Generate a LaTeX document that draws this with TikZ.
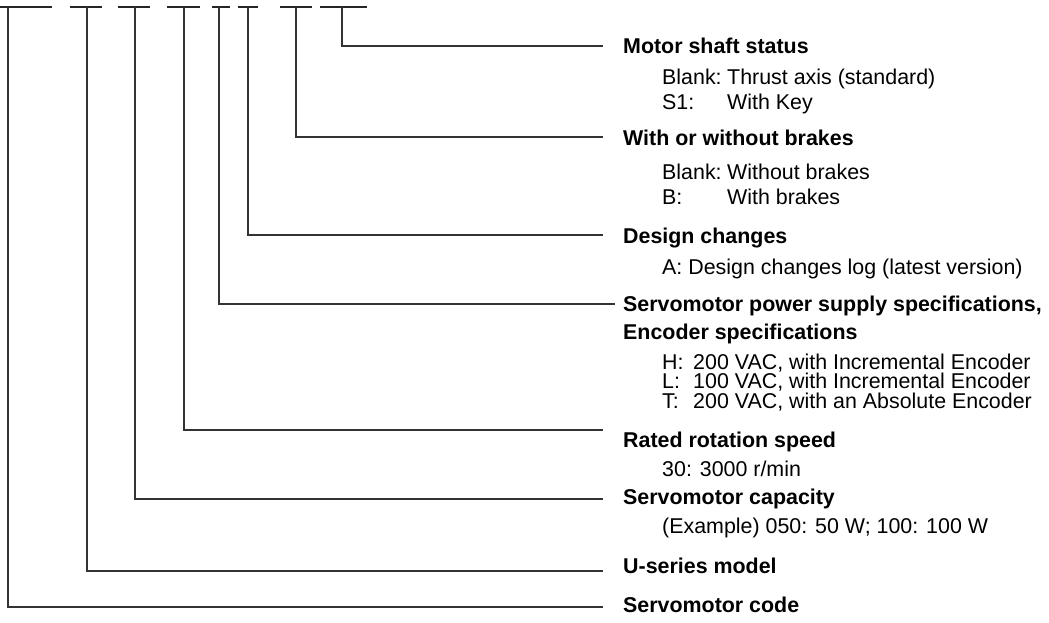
\documentclass[tikz,border=0pt]{standalone}
\usepackage{fontspec}
\setmainfont{Liberation Sans}
\begin{document}
\begin{tikzpicture}[x=1pt,y=-1pt,
  conn/.style={line width=1.3pt,draw=black!80},
  seg/.style={line width=1.3pt,draw=black!85},
  head/.style={anchor=base west,inner sep=0pt,font=\fontsize{21.4}{25}\selectfont\bfseries},
  sub/.style={anchor=base west,inner sep=0pt,font=\fontsize{21.4}{25}\selectfont},
  tight/.style={sub,text height=14.5pt,text depth=4pt}]
\useasboundingbox (0,0) rectangle (1049,622);
% model code character segments
\foreach \a/\b in {0/52,70/102,118/150,167/200,212/230,238/258,280/312,320/367}
  \draw[seg] (\a,7) -- (\b,7);
% top coordinates
\coordinate (t1) at (342,7);
\coordinate (t2) at (296,7);
\coordinate (t3) at (248,7);
\coordinate (t4) at (219,7);
\coordinate (t5) at (184,7);
\coordinate (t6) at (135,7);
\coordinate (t7) at (87,7);
\coordinate (t8) at (8,7);
% headings
\node[head] (h1) at (623,53.5) {Motor shaft status};
\node[head] (h2) at (623,145) {With or without brakes};
\node[head] (h3) at (623,243) {Design changes};
\node[head] (h4) at (623,311) {Servomotor power supply specifications,};
\node[head] (h4b) at (623,339) {Encoder specifications};
\node[head] (h5) at (623,447.5) {Rated rotation speed};
\node[head] (h6) at (623,504.5) {Servomotor capacity};
\node[head] (h7) at (623,573.5) {U-series model};
\node[head] (h8) at (623,612.5) {Servomotor code};
% connector ends
\coordinate (e1) at (603,46);
\coordinate (e2) at (603,137);
\coordinate (e3) at (603,235);
\coordinate (e4) at (615,304);
\coordinate (e5) at (603,430);
\coordinate (e6) at (603,499);
\coordinate (e7) at (603,571);
\coordinate (e8) at (603,607);
\foreach \i in {1,...,8}
  \draw[conn] (t\i) |- (e\i);
% sub texts
\node[sub] (s1a) at (662,84) {Blank:};
\node[sub] (s1av) at (727,84) {Thrust axis (standard)};
\node[sub] (s1b) at (662,109) {S1:};
\node[sub] (s1bv) at (727,109) {With Key};
\node[sub] (s2a) at (662,179) {Blank:};
\node[sub] (s2av) at (727,179) {Without brakes};
\node[sub] (s2b) at (662,204) {B:};
\node[sub] (s2bv) at (727,204) {With brakes};
\node[sub] (s3) at (662,274) {A: Design changes log (latest version)};
\node[tight] (s4a) at (662,369) {H:};
\node[tight] (s4av) at (693,369) {200 VAC, with Incremental Encoder};
\node[tight] (s4b) at (662,388.5) {L:};
\node[tight] (s4bv) at (693,388.5) {100 VAC, with Incremental Encoder};
\node[tight] (s4c) at (662,408) {T:};
\node[tight] (s4cv) at (693,408) {200 VAC, with an Absolute Encoder};
\node[sub] (s5) at (662,476.5) {30: 3000 r/min};
\node[sub] (s6) at (662,533.5) {(Example) 050: 50 W; 100: 100 W};
\end{tikzpicture}
\end{document}
